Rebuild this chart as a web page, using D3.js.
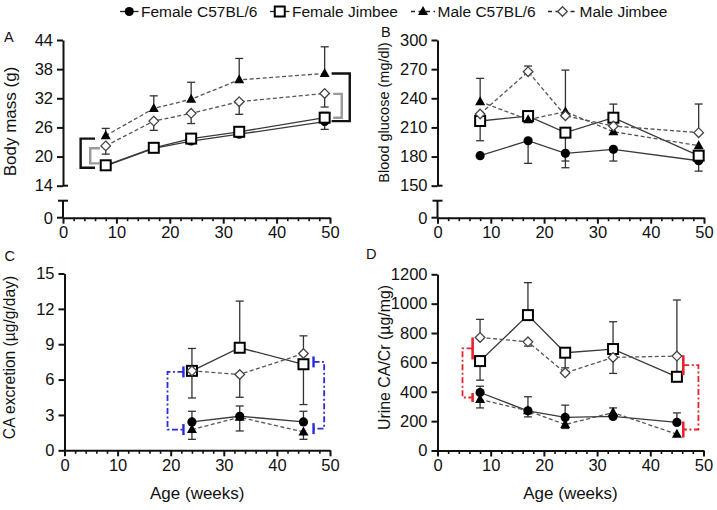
<!DOCTYPE html>
<html><head><meta charset="utf-8">
<script src="https://cdn.jsdelivr.net/npm/d3@7"></script>
<style>
body{margin:0;background:#fff}
text{font-family:"Liberation Sans",Arial,Helvetica,sans-serif;fill:#111}
</style>
</head><body>
<svg id="chart" width="717" height="510"></svg>
<script>
// ---------------- DATA ----------------
const seriesNames = ["Female C57BL/6", "Female Jimbee", "Male C57BL/6", "Male Jimbee"];
const panelLetters = ["A", "B", "C", "D"];
const yTitles = ["Body mass (g)", "Blood glucose (mg/dl)", "CA excretion (\u00b5g/g/day)", "Urine CA/Cr  (\u00b5g/mg)"];
const xTitle = "Age (weeks)";

const weeksAB = [8, 17, 24, 33, 49];
const weeksC = [24, 33, 45];
const weeksD = [8, 17, 24, 33, 45];

const xTicks = [0, 10, 20, 30, 40, 50];
const massTicks = [14, 20, 26, 32, 38, 44];
const glucoseTicks = [150, 180, 210, 240, 270, 300];
const caTicks = [0, 3, 6, 9, 12, 15];
const ratioTicks = [0, 200, 400, 600, 800, 1000, 1200];

// Panel A: body mass (g); Hi / Lo = end of the (one-sided) error bar
const massFC57 = [18.1, 21.7, 23.2, 24.6, 27.2];
const massFC57Lo = [null, null, null, null, 25.6];
const massFJ = [18.2, 21.8, 23.7, 25.1, 28.0];
const massFJHi = [null, null, null, null, 29.1];
const massMC57 = [24.3, 29.9, 31.8, 35.8, 37.1];
const massMC57Hi = [25.8, 32.5, 35.3, 40.2, 42.6];
const massMJ = [22.2, 27.3, 28.9, 31.3, 33.0];
const massMJLo = [20.5, 25.4, 26.8, 28.7, 30.2];

// Panel B: blood glucose (mg/dl)
const gluFC57 = [180.9, 196.3, 183.3, 187.4, 175.7];
const gluFC57Lo = [null, 173, 168.5, 175.4, 165];
const gluFJ = [216.6, 221.7, 204.6, 220, 180.9];
const gluFJLo = [196.3, null, 175.4, null, null];
const gluFJHi = [null, null, null, 234, null];
const gluMC57 = [236.5, 218, 226.2, 205.6, 191.2];
const gluMC57Hi = [260.5, null, 269, null, null];
const gluMJ = [223.8, 267.4, 222, 211.4, 204.6];
const gluMJHi = [null, 273.2, null, null, 234.1];

// Panel C: CA excretion (ug/g/day)
const caFC57 = [2.41, 2.89, 2.41];
const caFC57Hi = [3.31, 3.76, 3.31];
const caFJ = [6.74, 8.7, 7.3];
const caFJHi = [8.64, 12.66, null];
const caFJLo = [4.44, null, 3.88];
const caMC57 = [1.76, 2.8, 1.56];
const caMC57Lo = [0.93, 1.64, 0.93];
const caMJ = [6.74, 6.43, 8.21];
const caMJLo = [null, 4.5, null];
const caMJHi = [null, null, 9.71];

// Panel D: urine CA/Cr (ug/mg)
const ratioFC57 = [395, 270, 225, 232, 191];
const ratioFC57Hi = [438, 366, 309, null, 256];
const ratioFJ = [609, 922, 666, 691, 502];
const ratioFJLo = [479, null, 563, null, null];
const ratioFJHi = [null, 1143, null, 877, 1025];
const ratioMC57 = [348, 270, 177, 258, 111];
const ratioMC57Lo = [290, 229, 150, null, null];
const ratioMC57Hi = [null, null, null, 290, null];
const ratioMJ = [770, 740, 529, 634, 643];
const ratioMJHi = [893, null, null, null, null];
const ratioMJLo = [null, 711, null, 525, null];

// Significance brackets (data units): vertical x, end x, top y, bottom y
const bracketsA = [
  {v: 3.3, e: 6.0, top: 23.7, bot: 17.7, color: "#111"},
  {v: 5.1, e: 6.9, top: 21.7, bot: 18.6, color: "#9a9a9a"},
  {v: 53.7, e: 50.3, top: 37.1, bot: 27.3, color: "#111"},
  {v: 52.2, e: 50.6, top: 32.9, bot: 28.0, color: "#9a9a9a"}
];
const bracketsC = [
  {v: 19.4, e: 22.4, top: 6.65, bot: 1.76},
  {v: 48.9, e: 46.9, top: 7.5, bot: 1.84}
];
const bracketsD = [
  {v: 4.7, e: 6.6, top: 695, bot: 361, capTop: 11, capBot: 4.5},
  {v: 49.05, e: 46.2, top: 581, bot: 143, capTop: 10, capBot: 8}
];

// ---------------- DRAWING ----------------
const svg = d3.select("#chart");
const symbols = ["circle", "square", "triangle", "diamond"];
const dashedSeries = [false, false, true, true];

function marker(g, type, cx, cy) {
  if (type === "circle") {
    g.append("circle").attr("cx", cx).attr("cy", cy).attr("r", 4.6).attr("fill", "#000");
  } else if (type === "square") {
    g.append("rect").attr("x", cx - 5).attr("y", cy - 5).attr("width", 10).attr("height", 10)
      .attr("fill", "#fff").attr("stroke", "#000").attr("stroke-width", 2);
  } else if (type === "triangle") {
    g.append("path").attr("d", `M${cx},${cy - 5.5}L${cx + 5},${cy + 3.5}L${cx - 5},${cy + 3.5}Z`).attr("fill", "#000");
  } else {
    g.append("path").attr("d", `M${cx},${cy - 4.8}L${cx + 4.8},${cy}L${cx},${cy + 4.8}L${cx - 4.8},${cy}Z`)
      .attr("fill", "#fff").attr("stroke", "#444").attr("stroke-width", 1.3);
  }
}

function drawSeries(g, x, y, weeks, series) {
  const line = d3.line().x((d, i) => x(weeks[i])).y(d => y(d));
  series.forEach((s, k) => {
    g.append("path").datum(s.vals).attr("d", line).attr("fill", "none")
      .attr("stroke", dashedSeries[k] ? "#555" : "#3a3a3a").attr("stroke-width", 1.3)
      .attr("stroke-dasharray", dashedSeries[k] ? "4,2.5" : null);
  });
  series.forEach((s) => {
    [s.hi, s.lo].forEach(ends => {
      if (!ends) return;
      ends.forEach((e, i) => {
        if (e == null) return;
        const xx = x(weeks[i]);
        g.append("line").attr("x1", xx).attr("x2", xx).attr("y1", y(s.vals[i])).attr("y2", y(e))
          .attr("stroke", "#333").attr("stroke-width", 1.3);
        g.append("line").attr("x1", xx - 4).attr("x2", xx + 4).attr("y1", y(e)).attr("y2", y(e))
          .attr("stroke", "#333").attr("stroke-width", 1.3);
      });
    });
  });
  series.forEach((s, k) => {
    s.vals.forEach((v, i) => marker(g, symbols[k], x(weeks[i]), y(v)));
  });
}

function styleAxis(sel) {
  sel.select(".domain").attr("stroke", "#111").attr("stroke-width", 2);
  sel.selectAll(".tick line").attr("stroke", "#111").attr("stroke-width", 2);
  sel.selectAll(".tick text").style("font-size", "16.5px").attr("fill", "#111");
}

function xAxis(x, y0, pad) {
  const minor = d3.range(0, 51, 2).filter(v => v % 10 !== 0);
  svg.append("g").attr("transform", `translate(0,${y0})`)
    .call(d3.axisBottom(x).tickValues(minor).tickSize(3.5).tickSizeOuter(0).tickFormat(""))
    .call(s => { s.select(".domain").remove(); s.selectAll(".tick line").attr("stroke", "#111").attr("stroke-width", 1.6); });
  svg.append("g").attr("transform", `translate(0,${y0})`)
    .call(d3.axisBottom(x).tickValues(xTicks).tickSize(6).tickSizeOuter(0).tickPadding(pad).tickFormat(d3.format("d")))
    .call(styleAxis);
}

function yAxis(x0, y, ticks) {
  svg.append("g").attr("transform", `translate(${x0},0)`)
    .call(d3.axisLeft(y).tickValues(ticks).tickSize(6).tickSizeOuter(0).tickPadding(4).tickFormat(d3.format("d")))
    .call(styleAxis);
}

function brokenLower(x0, yZero, yCap) {
  const g = svg.append("g");
  g.append("line").attr("x1", x0).attr("x2", x0).attr("y1", yCap).attr("y2", yZero).attr("stroke", "#111").attr("stroke-width", 2);
  g.append("line").attr("x1", x0 - 5).attr("x2", x0 + 5).attr("y1", yCap).attr("y2", yCap).attr("stroke", "#111").attr("stroke-width", 2);
  g.append("line").attr("x1", x0 - 6).attr("x2", x0).attr("y1", yZero).attr("y2", yZero).attr("stroke", "#111").attr("stroke-width", 2);
  g.append("text").attr("x", x0 - 10).attr("y", yZero).attr("dy", "0.36em").attr("text-anchor", "end")
    .style("font-size", "16.5px").text("0");
}

function yTitle(text, bx, cy, size) {
  svg.append("text").attr("transform", `translate(${bx},${cy}) rotate(-90)`).attr("text-anchor", "middle")
    .style("font-size", size + "px").text(text);
}
function letter(text, x, y) {
  svg.append("text").attr("x", x).attr("y", y).style("font-size", "14.5px").text(text);
}

// ----- Panel A -----
const xA = d3.scaleLinear().domain([0, 50]).range([63, 330]);
const yA = d3.scaleLinear().domain([14, 44]).range([185.7, 40]);
yAxis(63, yA, massTicks);
svg.append("line").attr("x1", 63).attr("x2", 68).attr("y1", 185.7).attr("y2", 185.7).attr("stroke", "#111").attr("stroke-width", 2);
brokenLower(63, 217.7, 200.7);
xAxis(xA, 217.7, 3);
const gA = svg.append("g");
drawSeries(gA, xA, yA, weeksAB, [
  {vals: massFC57, lo: massFC57Lo},
  {vals: massFJ, hi: massFJHi},
  {vals: massMC57, hi: massMC57Hi},
  {vals: massMJ, lo: massMJLo}
]);
bracketsA.forEach(b => {
  gA.append("path").attr("d", `M${xA(b.e)},${yA(b.top)}H${xA(b.v)}V${yA(b.bot)}H${xA(b.e)}`)
    .attr("fill", "none").attr("stroke", b.color).attr("stroke-width", 2.4);
});
yTitle(yTitles[0], 16, 121.5, 17);
letter(panelLetters[0], 4, 42);

// ----- Panel B -----
const xB = d3.scaleLinear().domain([0, 50]).range([437.5, 704]);
const yB = d3.scaleLinear().domain([150, 300]).range([185.7, 40]);
yAxis(437.5, yB, glucoseTicks);
svg.append("line").attr("x1", 437.5).attr("x2", 442.5).attr("y1", 185.7).attr("y2", 185.7).attr("stroke", "#111").attr("stroke-width", 2);
brokenLower(437.5, 217.7, 200.7);
xAxis(xB, 217.7, 3);
drawSeries(svg.append("g"), xB, yB, weeksAB, [
  {vals: gluFC57, lo: gluFC57Lo},
  {vals: gluFJ, lo: gluFJLo, hi: gluFJHi},
  {vals: gluMC57, hi: gluMC57Hi},
  {vals: gluMJ, hi: gluMJHi}
]);
yTitle(yTitles[1], 389, 112.5, 14.5);
letter(panelLetters[1], 381, 37);

// ----- Panel C -----
const xC = d3.scaleLinear().domain([0, 50]).range([64.5, 330]);
const yC = d3.scaleLinear().domain([0, 15]).range([450.3, 273.5]);
yAxis(64.5, yC, caTicks);
xAxis(xC, 450.3, 3);
const gC = svg.append("g");
drawSeries(gC, xC, yC, weeksC, [
  {vals: caFC57, hi: caFC57Hi},
  {vals: caFJ, hi: caFJHi, lo: caFJLo},
  {vals: caMC57, lo: caMC57Lo},
  {vals: caMJ, lo: caMJLo, hi: caMJHi}
]);
bracketsC.forEach(b => {
  gC.append("path").attr("d", `M${xC(b.e)},${yC(b.top)}H${xC(b.v)}V${yC(b.bot)}H${xC(b.e)}`)
    .attr("fill", "none").attr("stroke", "#2a2ae0").attr("stroke-width", 1.8).attr("stroke-dasharray", "6,2.5,2,2.5");
  [b.top, b.bot].forEach(t => gC.append("line").attr("x1", xC(b.e)).attr("x2", xC(b.e))
    .attr("y1", yC(t) - 5.5).attr("y2", yC(t) + 5.5).attr("stroke", "#2a2ae0").attr("stroke-width", 2.4));
});
yTitle(yTitles[2], 15, 357.5, 15.6);
svg.append("text").attr("x", xC(25)).attr("y", 499).attr("text-anchor", "middle").style("font-size", "17px").text(xTitle);
letter(panelLetters[2], 4.5, 260.5);

// ----- Panel D -----
const xD = d3.scaleLinear().domain([0, 50]).range([437.5, 703.5]);
const yD = d3.scaleLinear().domain([0, 1200]).range([450.5, 274.3]);
yAxis(437.5, yD, ratioTicks);
xAxis(xD, 450.5, 3);
const gD = svg.append("g");
drawSeries(gD, xD, yD, weeksD, [
  {vals: ratioFC57, hi: ratioFC57Hi},
  {vals: ratioFJ, lo: ratioFJLo, hi: ratioFJHi},
  {vals: ratioMC57, lo: ratioMC57Lo, hi: ratioMC57Hi},
  {vals: ratioMJ, hi: ratioMJHi, lo: ratioMJLo}
]);
bracketsD.forEach(b => {
  gD.append("path").attr("d", `M${xD(b.e)},${yD(b.top)}H${xD(b.v)}V${yD(b.bot)}H${xD(b.e)}`)
    .attr("fill", "none").attr("stroke", "#e8232b").attr("stroke-width", 1.8).attr("stroke-dasharray", "6,2.5,2,2.5");
  gD.append("line").attr("x1", xD(b.e)).attr("x2", xD(b.e)).attr("y1", yD(b.top) - b.capTop).attr("y2", yD(b.top) + b.capTop)
    .attr("stroke", "#e8232b").attr("stroke-width", 2.6);
  gD.append("line").attr("x1", xD(b.e)).attr("x2", xD(b.e)).attr("y1", yD(b.bot) - b.capBot).attr("y2", yD(b.bot) + b.capBot)
    .attr("stroke", "#e8232b").attr("stroke-width", 2.6);
});
yTitle(yTitles[3], 390, 357.5, 15.9);
svg.append("text").attr("x", xD(25)).attr("y", 499).attr("text-anchor", "middle").style("font-size", "17px").text(xTitle);
letter(panelLetters[3], 366, 258.5);

// ----- Legend -----
const legendX = [120, 270, 411, 548];
const legendW = [18.5, 19.5, 24, 29];
const lg = svg.append("g");
seriesNames.forEach((name, k) => {
  const x0 = legendX[k], w = legendW[k], cy = 11.5;
  lg.append("line").attr("x1", x0).attr("x2", x0 + w).attr("y1", cy).attr("y2", cy)
    .attr("stroke", "#222").attr("stroke-width", 1.3).attr("stroke-dasharray", dashedSeries[k] ? "4,3.5" : null);
  marker(lg, symbols[k], x0 + w / 2, cy);
  lg.append("text").attr("x", x0 + w + 2.5).attr("y", 17).style("font-size", "15.5px").text(name);
});
</script>
</body></html>
